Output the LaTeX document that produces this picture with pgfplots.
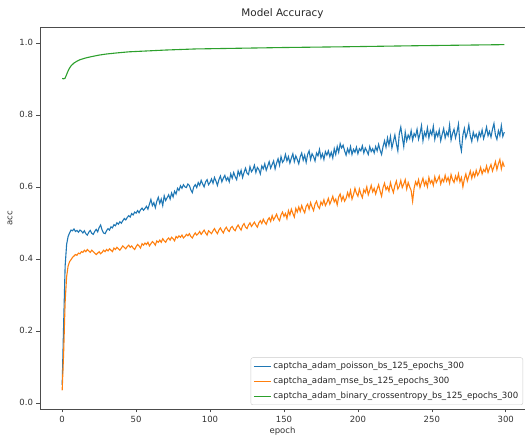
\documentclass[border=0pt]{standalone}
\usepackage{pgfplots}
\pgfplotsset{compat=1.18}
\usepackage{pgfplotstable}
\usepackage{fontspec}
\setmainfont{DejaVu Sans}
\definecolor{c0}{HTML}{1F77B4}
\definecolor{c1}{HTML}{FF7F0E}
\definecolor{c2}{HTML}{2CA02C}
\pgfplotstableread{
e b o
0 0.050 0.035
1 0.220 0.140
2 0.380 0.280
3 0.440 0.350
4 0.462 0.380
5 0.472 0.392
6 0.480 0.398
7 0.478 0.404
8 0.483 0.408
9 0.476 0.412
10 0.479 0.410
11 0.474 0.416
12 0.480 0.414
13 0.477 0.420
14 0.472 0.418
15 0.478 0.424
16 0.470 0.420
17 0.466 0.426
18 0.474 0.422
19 0.479 0.418
20 0.471 0.424
21 0.468 0.420
22 0.476 0.416
23 0.482 0.412
24 0.475 0.416
25 0.487 0.420
26 0.494 0.414
27 0.480 0.418
28 0.472 0.424
29 0.470 0.420
30 0.478 0.426
31 0.484 0.422
32 0.480 0.428
33 0.489 0.424
34 0.486 0.420
35 0.495 0.430
36 0.492 0.426
37 0.500 0.432
38 0.496 0.428
39 0.503 0.424
40 0.499 0.430
41 0.506 0.436
42 0.512 0.432
43 0.508 0.428
44 0.515 0.434
45 0.520 0.438
46 0.516 0.432
47 0.526 0.436
48 0.522 0.430
49 0.530 0.426
50 0.527 0.434
51 0.534 0.440
52 0.528 0.436
53 0.536 0.430
54 0.541 0.442
55 0.535 0.438
56 0.540 0.444
57 0.546 0.440
58 0.538 0.446
59 0.552 0.436
60 0.565 0.442
61 0.548 0.448
62 0.556 0.444
63 0.542 0.438
64 0.560 0.450
65 0.571 0.446
66 0.554 0.452
67 0.566 0.446
68 0.548 0.456
69 0.575 0.450
70 0.562 0.446
71 0.570 0.454
72 0.578 0.458
73 0.566 0.452
74 0.583 0.460
75 0.572 0.456
76 0.588 0.450
77 0.580 0.462
78 0.596 0.458
79 0.590 0.464
80 0.603 0.460
81 0.596 0.466
82 0.606 0.458
83 0.600 0.462
84 0.598 0.468
85 0.608 0.464
86 0.604 0.470
87 0.592 0.462
88 0.584 0.458
89 0.600 0.466
90 0.606 0.472
91 0.598 0.466
92 0.612 0.470
93 0.604 0.476
94 0.618 0.468
95 0.608 0.474
96 0.600 0.480
97 0.614 0.472
98 0.620 0.466
99 0.606 0.478
100 0.612 0.474
101 0.622 0.470
102 0.610 0.478
103 0.626 0.484
104 0.616 0.476
105 0.604 0.470
106 0.620 0.480
107 0.630 0.486
108 0.614 0.478
109 0.624 0.472
110 0.632 0.482
111 0.618 0.488
112 0.626 0.480
113 0.614 0.476
114 0.636 0.486
115 0.624 0.490
116 0.640 0.482
117 0.628 0.478
118 0.620 0.488
119 0.644 0.494
120 0.632 0.486
121 0.646 0.480
122 0.626 0.492
123 0.640 0.498
124 0.652 0.488
125 0.638 0.484
126 0.634 0.494
127 0.656 0.500
128 0.642 0.490
129 0.648 0.496
130 0.660 0.502
131 0.640 0.494
132 0.654 0.488
133 0.648 0.500
134 0.636 0.506
135 0.658 0.498
136 0.650 0.510
137 0.664 0.502
138 0.646 0.496
139 0.658 0.508
140 0.670 0.514
141 0.652 0.504
142 0.662 0.520
143 0.672 0.508
144 0.650 0.516
145 0.666 0.524
146 0.678 0.512
147 0.660 0.506
148 0.684 0.522
149 0.668 0.530
150 0.674 0.518
151 0.690 0.526
152 0.672 0.512
153 0.684 0.534
154 0.666 0.522
155 0.680 0.538
156 0.692 0.526
157 0.670 0.516
158 0.686 0.540
159 0.676 0.530
160 0.664 0.544
161 0.684 0.532
162 0.694 0.548
163 0.674 0.536
164 0.688 0.528
165 0.668 0.546
166 0.690 0.552
167 0.700 0.538
168 0.676 0.556
169 0.692 0.544
170 0.684 0.534
171 0.672 0.552
172 0.694 0.560
173 0.686 0.546
174 0.704 0.540
175 0.680 0.558
176 0.692 0.550
177 0.676 0.564
178 0.698 0.548
179 0.688 0.556
180 0.700 0.568
181 0.684 0.552
182 0.696 0.562
183 0.680 0.574
184 0.706 0.558
185 0.690 0.566
186 0.712 0.550
187 0.696 0.572
188 0.720 0.580
189 0.708 0.562
190 0.716 0.574
191 0.700 0.560
192 0.688 0.568
193 0.706 0.584
194 0.694 0.572
195 0.712 0.590
196 0.690 0.566
197 0.704 0.578
198 0.696 0.596
199 0.710 0.582
200 0.692 0.574
201 0.706 0.594
202 0.700 0.580
203 0.714 0.570
204 0.694 0.592
205 0.708 0.584
206 0.700 0.600
207 0.690 0.578
208 0.712 0.590
209 0.698 0.604
210 0.706 0.586
211 0.694 0.596
212 0.712 0.580
213 0.700 0.594
214 0.718 0.606
215 0.702 0.588
216 0.690 0.574
217 0.712 0.598
218 0.728 0.610
219 0.710 0.592
220 0.736 0.600
221 0.716 0.588
222 0.740 0.612
223 0.708 0.596
224 0.726 0.584
225 0.744 0.604
226 0.720 0.616
227 0.700 0.594
228 0.748 0.602
229 0.766 0.618
230 0.738 0.598
231 0.712 0.608
232 0.752 0.620
233 0.728 0.594
234 0.744 0.612
235 0.734 0.600
236 0.756 0.590
237 0.730 0.560
238 0.748 0.596
239 0.740 0.614
240 0.760 0.604
241 0.732 0.620
242 0.748 0.598
243 0.770 0.612
244 0.728 0.624
245 0.752 0.604
246 0.740 0.616
247 0.764 0.600
248 0.736 0.626
249 0.756 0.610
250 0.744 0.618
251 0.768 0.604
252 0.732 0.628
253 0.752 0.612
254 0.740 0.620
255 0.758 0.630
256 0.728 0.608
257 0.746 0.622
258 0.762 0.614
259 0.736 0.632
260 0.752 0.616
261 0.742 0.626
262 0.772 0.610
263 0.730 0.634
264 0.748 0.620
265 0.760 0.612
266 0.736 0.630
267 0.752 0.618
268 0.774 0.636
269 0.720 0.614
270 0.700 0.626
271 0.744 0.600
272 0.762 0.622
273 0.736 0.636
274 0.750 0.616
275 0.772 0.630
276 0.742 0.644
277 0.726 0.624
278 0.752 0.640
279 0.738 0.628
280 0.746 0.646
281 0.730 0.632
282 0.752 0.640
283 0.740 0.654
284 0.758 0.636
285 0.734 0.648
286 0.748 0.642
287 0.766 0.658
288 0.742 0.640
289 0.754 0.652
290 0.738 0.662
291 0.760 0.644
292 0.776 0.656
293 0.744 0.670
294 0.732 0.648
295 0.756 0.664
296 0.742 0.676
297 0.770 0.650
298 0.740 0.668
299 0.752 0.656
}\acctable
\begin{document}
\begin{tikzpicture}
\begin{axis}[
  scale only axis, width=485pt, height=382pt,
  xmin=-15, xmax=313, ymin=-0.017, ymax=1.044,
  xtick={0,50,100,150,200,250,300},
  ytick={0,0.2,0.4,0.6,0.8,1.0},
  yticklabel style={/pgf/number format/fixed, /pgf/number format/fixed zerofill, /pgf/number format/precision=1},
  /pgf/number format/assume math mode=true,
  tick label style={font=\fontsize{8.5}{10}\selectfont, text=black!80},
  tick align=outside, tick pos=left,
  major tick length=3.5pt,
  tick style={black!70, line width=0.6pt},
  axis line style={black!70, line width=0.8pt},
  title={Model Accuracy},
  title style={font=\fontsize{10.4}{12}\selectfont, text=black!85, at={(0.5,1)}, anchor=base, yshift=4pt},
  xlabel={epoch}, ylabel={acc},
  label style={font=\fontsize{8.5}{10}\selectfont, text=black!80},
  xlabel style={yshift=2pt},
  legend cell align=left,
  legend style={at={(0.996,0.0105)}, anchor=south east,
    font=\fontsize{8.6}{10}\selectfont, text=black!85,
    draw=black!20, rounded corners=2pt, fill=white, fill opacity=0.8, text opacity=1,
    inner sep=2.5pt, row sep=3pt},
  legend image post style={line width=1pt},
]
\addplot[c0, line width=1.1pt] table[x=e, y=b] {\acctable};
\addlegendentry{captcha\_adam\_poisson\_bs\_125\_epochs\_300}
\addplot[c1, line width=1.1pt] table[x=e, y=o] {\acctable};
\addlegendentry{captcha\_adam\_mse\_bs\_125\_epochs\_300}
\addplot[c2, line width=1.1pt] coordinates {
(0,0.901)(1,0.900)(2,0.902)(3,0.912)(4,0.922)(5,0.930)(6,0.936)(7,0.940)(8,0.944)(10,0.949)(12,0.953)(15,0.957)(19,0.961)(25,0.966)(30,0.969)(37,0.972)(45,0.975)(55,0.977)(70,0.980)(90,0.983)(120,0.985)(150,0.987)(190,0.989)(240,0.992)(299,0.995)};
\addlegendentry{captcha\_adam\_binary\_crossentropy\_bs\_125\_epochs\_300}
\end{axis}
\pgfresetboundingbox
\path ([shift={(-40pt,-27pt)}]current axis.south west) rectangle ([shift={(0pt,27pt)}]current axis.north east);
\end{tikzpicture}
\end{document}
